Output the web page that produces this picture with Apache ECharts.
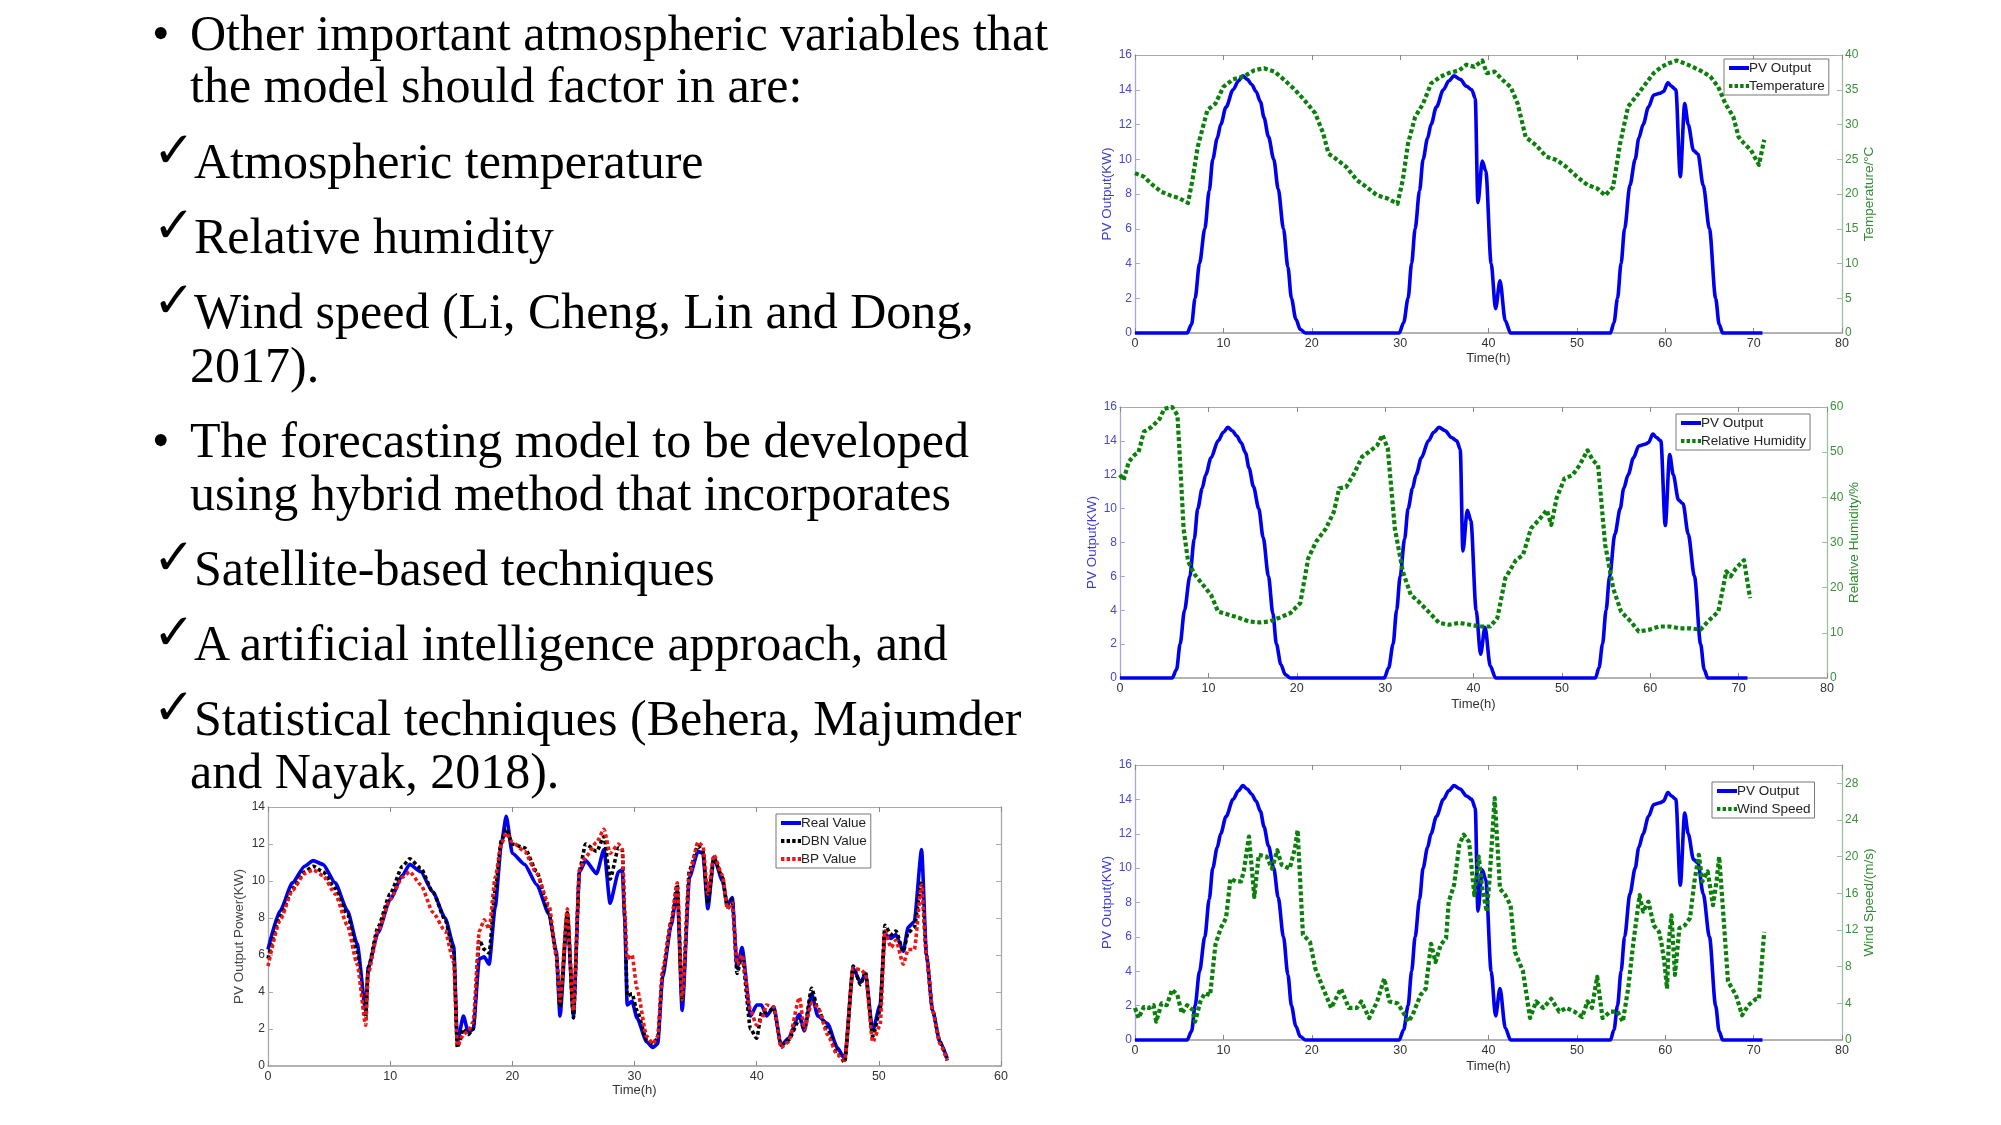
<!DOCTYPE html>
<html>
<head>
<meta charset="utf-8">
<script src="https://cdn.jsdelivr.net/npm/echarts@6/dist/echarts.min.js"></script>
<style>
html,body{margin:0;padding:0;background:#fff;overflow:hidden;}
#c{position:absolute;left:0;top:0;width:2001px;height:1125px;}
.tx{position:absolute;font-family:"Liberation Serif",serif;font-size:50px;line-height:50px;color:#000;white-space:nowrap;z-index:2;}
.ck{position:absolute;font-family:"DejaVu Sans",sans-serif;font-weight:bold;font-size:50px;line-height:50px;color:#000;white-space:nowrap;z-index:2;}
</style>
</head>
<body>
<div id="c"></div>

<div class="tx" style="left:152px;top:8px">•</div>
<div class="tx" style="left:190px;top:8px">Other important atmospheric variables that</div>
<div class="tx" style="left:190px;top:60px">the model should factor in are:</div>
<div class="ck" style="left:153px;top:125px">✓</div>
<div class="tx" style="left:194px;top:136px">Atmospheric temperature</div>
<div class="ck" style="left:153px;top:200px">✓</div>
<div class="tx" style="left:194px;top:211px">Relative humidity</div>
<div class="ck" style="left:153px;top:275px">✓</div>
<div class="tx" style="left:194px;top:286px">Wind speed (Li, Cheng, Lin and Dong,</div>
<div class="tx" style="left:190px;top:340px">2017).</div>
<div class="tx" style="left:152px;top:415px">•</div>
<div class="tx" style="left:190px;top:415px">The forecasting model to be developed</div>
<div class="tx" style="left:190px;top:468px">using hybrid method that incorporates</div>
<div class="ck" style="left:153px;top:532px">✓</div>
<div class="tx" style="left:194px;top:543px">Satellite-based techniques</div>
<div class="ck" style="left:153px;top:607px">✓</div>
<div class="tx" style="left:194px;top:618px">A artificial intelligence approach, and</div>
<div class="ck" style="left:153px;top:682px">✓</div>
<div class="tx" style="left:194px;top:693px">Statistical techniques (Behera, Majumder</div>
<div class="tx" style="left:190px;top:746px">and Nayak, 2018).</div>

<script>
// ---------------- DATA ----------------
const pvTime = [0, 5.9, 6.4, 6.8, 7.3, 7.9, 8.4, 8.8, 9.3, 9.7, 10.3, 11.1, 11.7, 12.2, 12.7, 13.2, 13.7, 14.2, 14.6, 15.1, 15.7, 16.2, 16.8, 17.3, 17.7, 18.2, 18.7, 19.3,
  29.9, 30.4, 30.9, 31.3, 31.7, 32.2, 32.6, 33.1, 33.5, 34.1, 34.9, 35.5, 36.1, 36.8, 37.5, 38.1, 38.5, 38.8, 39.3, 39.7, 40.3, 40.8, 41.3, 41.9, 42.5,
  53.8, 54.2, 54.6, 55.0, 55.4, 56.0, 56.6, 57.0, 57.5, 58.1, 58.7, 59.4, 59.8, 60.3, 60.7, 61.2, 61.7, 62.2, 62.6, 63.2, 63.7, 64.3, 65.0, 65.7, 66.1, 66.5, 71];
const pvOutput = [0, 0, 0.5, 2.0, 4.0, 6.0, 8.2, 10.0, 11.2, 12.0, 13.0, 14.0, 14.5, 14.8, 14.6, 14.3, 13.9, 13.3, 12.4, 11.3, 10.0, 8.3, 6.0, 3.8, 2.0, 0.8, 0.2, 0,
  0, 0.6, 2.0, 4.0, 6.0, 8.2, 10.0, 11.2, 12.0, 13.0, 14.0, 14.5, 14.8, 14.6, 14.2, 14.0, 13.5, 7.5, 9.9, 9.3, 4.0, 1.4, 3.0, 0.7, 0,
  0, 0.6, 2.0, 4.0, 6.0, 8.5, 10.0, 11.2, 12.0, 13.0, 13.7, 13.8, 13.9, 14.4, 14.2, 14.0, 9.0, 13.2, 12.0, 10.5, 10.3, 8.5, 6.0, 2.0, 0.5, 0, 0];

const tempTime = [0, 1.0, 2.0, 3.0, 4.0, 5.0, 6.0, 6.5, 7.1, 7.7, 8.2, 9.1, 10.0, 11.1, 12.3, 13.5, 14.6, 15.8, 16.9, 18.1, 19.3, 20.4, 21.3, 21.9, 22.7, 23.9,
  25.1, 26.2, 27.4, 28.5, 29.7, 30.3, 30.9, 31.7, 32.6, 33.5, 34.6, 35.5, 36.7, 37.5, 38.4, 39.3, 39.8, 40.7, 41.6, 42.5, 43.3, 44.2, 45.4, 46.5, 47.7,
  48.8, 50.0, 51.2, 52.3, 53.2, 54.1, 54.9, 55.8, 57.0, 57.8, 58.7, 59.6, 60.4, 61.3, 62.2, 63.1, 64.2, 65.1, 66.0, 66.8, 67.7, 68.3, 68.9, 69.7, 70.6, 71.2];
const temperature = [23.0, 22.5, 21.3, 20.3, 19.8, 19.4, 18.7, 22.0, 26.8, 29.7, 32.1, 33.0, 35.4, 36.5, 36.9, 37.8, 38.1, 37.6, 36.4, 35.0, 33.3, 31.6, 28.7, 25.8, 25.1, 23.9,
  22.0, 21.0, 19.8, 19.4, 18.6, 22.0, 27.3, 31.1, 33.0, 35.9, 36.9, 37.4, 37.8, 38.6, 38.3, 39.2, 37.4, 37.6, 36.4, 35.4, 33.0, 28.2, 27.0, 25.4, 24.9,
  23.9, 22.5, 21.3, 20.8, 19.8, 21.0, 27.3, 32.6, 34.5, 35.9, 37.4, 38.3, 38.8, 39.2, 38.8, 38.3, 37.6, 36.9, 35.4, 33.0, 31.1, 28.2, 27.3, 26.3, 24.2, 27.8];

const rhTime = [0, 0.4, 1.0, 1.6, 2.1, 2.7, 3.6, 4.5, 5.0, 5.9, 6.5, 6.8, 7.2, 7.7, 8.5, 9.4, 10.3, 11.1, 12.3, 13.5, 14.6, 15.8, 16.9, 18.1, 19.3, 20.4, 21.3, 22.2, 23.3, 24.2,
  24.8, 25.6, 26.5, 27.4, 28.2, 29.1, 29.7, 30.3, 31.1, 32.0, 32.9, 33.8, 34.9, 36.1, 37.2, 38.4, 39.6, 40.7, 41.9, 42.7, 43.6, 44.8, 45.6, 46.5, 47.4, 48.3, 48.8, 49.4, 50.3, 51.2,
  52.0, 52.9, 53.5, 54.1, 54.9, 55.8, 56.7, 57.8, 58.7, 59.9, 61.0, 62.2, 63.3, 64.5, 65.7, 66.5, 67.7, 68.6, 69.1, 69.7, 70.6, 71.3];
const humidity = [45, 43.8, 47.9, 49.3, 50, 54.5, 55.6, 57.4, 59.6, 60, 58.2, 47.9, 33, 25.8, 22.8, 20.6, 18.4, 14.7, 14, 13.3, 12.5, 12.3, 12.5, 13.4, 14.4, 16.6, 26.5, 30.2, 33.1, 36.8,
  42, 42.3, 45.3, 49, 50.1, 51.5, 53.8, 50.8, 33.1, 23.6, 18.4, 16.9, 14.7, 12.2, 11.8, 12.2, 11.8, 11.4, 11.4, 13.3, 22.1, 26.1, 27.2, 33.1, 35, 37.2, 33.9, 39.8, 44.2, 44.9,
  47.1, 50.4, 48.2, 47.1, 29.5, 19.9, 14.7, 12.5, 10.3, 10.7, 11.4, 11.4, 11, 11, 10.7, 12.5, 14.7, 23.6, 22.5, 24.3, 26.1, 17.7];

const windTime = [0, 0.4, 1.0, 1.6, 2.1, 2.4, 3.0, 3.6, 4.2, 4.8, 5.3, 5.9, 6.5, 6.8, 7.4, 7.9, 8.5, 9.1, 9.7, 10.3,
  10.8, 11.4, 12.0, 12.3, 12.9, 13.5, 14.0, 14.9, 15.5, 16.1, 16.6, 17.5, 18.1, 18.4, 19.0, 19.8, 20.4, 21.3, 22.2, 23.3,
  24.2, 25.1, 25.6, 26.5, 27.4, 28.2, 28.8, 29.7, 30.3, 30.9, 31.4, 32.3, 32.9, 33.5, 34.0, 34.6, 35.2, 35.5, 36.1, 36.7,
  37.2, 37.8, 38.4, 38.9, 39.3, 39.8, 40.1, 40.7, 41.3, 41.9, 42.5, 43.0, 43.9, 44.7, 45.4, 46.2, 47.1, 48.0, 48.8, 49.7,
  50.6, 51.2, 51.7, 52.3, 52.9, 53.8, 54.6, 55.2, 55.8, 56.4, 57.1, 57.5, 58.1, 58.7, 59.3, 59.6, 59.9, 60.2, 60.4, 60.7,
  61.1, 61.6, 62.2, 62.8, 63.3, 63.8, 64.2, 64.8, 65.4, 65.8, 66.1, 66.5, 67.1, 68.0, 68.7, 69.4, 70.3, 70.6, 71.2];
const windSpeed = [3.5, 2.4, 3.6, 3.5, 3.8, 2, 4, 3.8, 5.5, 4.9, 2.9, 3.8, 3.3, 2, 4.2, 5.1, 4.9, 10.4, 12.2, 13.3,
  17.6, 17.3, 17.3, 18.4, 22.2, 15.6, 20.2, 20, 18.7, 20.7, 19.1, 18.7, 20.9, 22.9, 11.5, 10.7, 7.8, 5.6, 3.5, 5.6,
  3.5, 3.5, 4.2, 2.4, 4.2, 6.7, 4.2, 4, 3.1, 2, 2.7, 4.9, 5.6, 10.5, 8.5, 10.4, 11.1, 15.1, 16.9, 21.3,
  22.4, 21.6, 15.8, 20, 16.5, 14, 17.3, 26.4, 16.5, 15.8, 14.7, 9.6, 7.5, 2.4, 4.2, 3.5, 4.5, 3.1, 3.5, 3.1,
  2.5, 4.2, 3.5, 6.9, 2.4, 3.1, 3.1, 2, 5.6, 10.7, 15.8, 14, 15.1, 12.5, 11.8, 10.4, 8.5, 5.6, 10.7, 13.6,
  7.1, 12.2, 12.5, 13.3, 17.3, 20.2, 17.3, 18.4, 14.7, 17.3, 20, 14.7, 6.4, 4.9, 2.7, 3.8, 4.5, 4.5, 11.8];

const fcTime = [0, 1, 2, 3, 3.7, 4.5, 5.5, 6.5, 7.3, 8, 8.2, 9, 10, 11, 11.6, 12.5, 13.5, 14.5, 15.2, 15.5,
  16, 16.4, 16.8, 17.3, 17.7, 18.1, 18.6, 19.1, 19.5, 20, 21, 22, 23, 23.6, 23.9, 24.5, 25, 25.5, 26, 26.9,
  27.5, 28, 28.7, 29, 29.2, 29.4, 29.8, 30.2, 31, 31.5, 31.9, 32.3, 33, 33.5, 33.9, 34.5, 35.2, 35.6, 36, 36.5,
  37.2, 37.6, 38, 38.4, 38.8, 39.5, 40, 40.4, 40.8, 41.4, 42, 42.6, 43.5, 43.9, 44.5, 45, 45.8, 46.6, 47.2, 47.9,
  48.5, 48.9, 49.5, 50.1, 50.5, 51, 51.4, 52, 52.4, 52.9, 53.5, 53.9, 54.4, 55, 55.6];
const realValue = [6.3, 8.4, 9.9, 10.8, 11.1, 10.9, 9.9, 8.4, 6.6, 3.0, 5.3, 7.2, 9.0, 10.3, 10.9, 10.5, 9.4, 8.0, 6.5, 1.3,
  2.7, 1.8, 2.0, 5.8, 5.9, 5.5, 8.6, 12.0, 13.5, 11.5, 10.9, 9.8, 8.2, 6.2, 2.7, 8.2, 2.7, 10.5, 11.1, 10.4,
  11.7, 8.8, 10.5, 10.6, 8.0, 3.3, 3.5, 2.6, 1.3, 1.0, 1.2, 4.8, 7.6, 9.5, 3.0, 10.2, 11.6, 11.5, 8.5, 11.3,
  10.0, 8.7, 9.1, 5.3, 6.4, 2.7, 3.3, 3.3, 2.7, 3.2, 1.1, 1.5, 2.8, 1.9, 3.9, 2.7, 2.3, 1.0, 0.4, 5.3,
  4.5, 5.0, 1.9, 3.3, 7.1, 6.9, 7.1, 6.2, 7.5, 7.8, 11.7, 6.0, 3.0, 1.3, 0.4];
const dbnValue = [5.8, 8.1, 9.6, 10.5, 10.8, 10.5, 9.6, 8.2, 6.2, 2.6, 5.3, 7.5, 9.3, 10.8, 11.2, 10.7, 9.4, 7.9, 6.2, 1.0,
  2.0, 1.7, 2.0, 6.8, 6.3, 6.1, 9.5, 12.2, 12.8, 12.0, 11.8, 10.5, 8.3, 6.0, 3.2, 8.3, 2.6, 10.6, 12.0, 11.6,
  12.4, 10.1, 11.8, 11.7, 8.2, 3.8, 3.9, 3.0, 1.4, 1.2, 1.5, 5.0, 7.8, 9.8, 3.5, 10.6, 11.9, 11.6, 8.8, 11.2,
  10.2, 8.6, 9.0, 5.0, 6.0, 2.0, 1.5, 2.9, 2.9, 3.1, 1.1, 1.4, 2.5, 2.0, 4.2, 3.1, 2.0, 0.8, 0.2, 5.4,
  4.4, 5.1, 1.6, 3.0, 7.6, 7.1, 7.3, 6.2, 7.2, 7.5, 10.0, 6.0, 3.0, 1.3, 0.3];
const bpValue = [5.4, 7.9, 9.5, 10.4, 10.6, 10.3, 9.3, 7.6, 5.5, 2.2, 5.0, 7.3, 9.0, 10.2, 10.5, 9.8, 8.3, 7.3, 5.6, 1.1,
  1.7, 1.9, 2.4, 7.3, 7.9, 7.4, 10.2, 12.0, 12.6, 12.1, 11.6, 10.4, 8.7, 6.0, 3.5, 8.5, 3.0, 10.6, 11.3, 12.1,
  12.8, 11.5, 12.0, 11.7, 8.3, 5.8, 6.0, 4.2, 1.6, 1.2, 1.6, 5.2, 7.8, 9.9, 3.6, 10.4, 12.1, 11.9, 9.3, 11.4,
  10.3, 8.5, 8.8, 5.5, 6.0, 3.0, 2.2, 2.5, 3.3, 3.2, 1.0, 1.3, 3.7, 2.0, 3.4, 3.2, 1.7, 0.6, 0.3, 5.3,
  5.2, 5.0, 1.3, 2.2, 7.3, 6.4, 6.8, 5.5, 6.3, 6.3, 9.8, 6.0, 3.0, 1.2, 0.3];

// ---------------- CHART ----------------
const FONT = 'Liberation Sans';
const BLUE = '#0000f0', GREEN = '#0a800a', RED = '#f01414';
const pairs = (t, v) => t.map((x, i) => [x, v[i]]);

const grids = [
  { left: 1135, top: 55, width: 707, height: 278 },
  { left: 1120, top: 407, width: 707, height: 271 },
  { left: 1135, top: 765, width: 707, height: 275 },
  { left: 268, top: 807, width: 733, height: 259 }
];

const xAxis = [], yAxis = [];
function addX(g, max, nameGap) {
  xAxis.push({
    gridIndex: g, type: 'value', min: 0, max: max, interval: 10, position: 'bottom',
    axisLine: { show: true, onZero: false, lineStyle: { color: '#9a9a9a', width: 1.5 } },
    axisTick: { show: true, inside: true, length: 5, lineStyle: { color: '#888' } },
    axisLabel: { color: '#333', fontSize: 12.5, fontFamily: FONT, margin: 4 },
    splitLine: { show: false },
    name: 'Time(h)', nameLocation: 'middle', nameGap: nameGap,
    nameTextStyle: { color: '#333', fontSize: 13, fontFamily: FONT }
  });
  xAxis.push({
    gridIndex: g, type: 'value', min: 0, max: max, interval: 10, position: 'top',
    axisLine: { show: true, onZero: false, lineStyle: { color: '#a8a8a8', width: 1.2 } },
    axisTick: { show: true, inside: true, length: 5, lineStyle: { color: '#888' } },
    axisLabel: { show: false }, splitLine: { show: false }
  });
}
function addY(g, pos, max, interval, name, labelColor, lineColor, nameColor, nameGap, showLabel, hideMax) {
  yAxis.push({
    gridIndex: g, type: 'value', min: 0, max: max, interval: interval, position: pos,
    axisLine: { show: true, onZero: false, lineStyle: { color: lineColor, width: 1.3 } },
    axisTick: { show: true, inside: true, length: 5, lineStyle: { color: lineColor } },
    axisLabel: {
      show: showLabel, color: labelColor, fontSize: 12, fontFamily: FONT, margin: 3,
      formatter: v => (hideMax && v === max) ? '' : String(v)
    },
    splitLine: { show: false },
    name: name, nameLocation: 'middle', nameGap: nameGap,
    nameTextStyle: { color: nameColor, fontSize: 13.5, fontFamily: FONT }
  });
}
const LBLUE = '#4848c8', LGREEN = '#3d8f3d';
// chart 1
addX(0, 80, 19);
addY(0, 'left', 16, 2, 'PV Output(KW)', LBLUE, '#a6a6d8', '#3c3cd0', 20, true, false);
addY(0, 'right', 40, 5, 'Temperature/°C', LGREEN, '#9cc09c', '#2f8a2f', 19, true, false);
// chart 2
addX(1, 80, 20);
addY(1, 'left', 16, 2, 'PV Output(KW)', LBLUE, '#a6a6d8', '#3c3cd0', 20, true, false);
addY(1, 'right', 60, 10, 'Relative Humidity/%', LGREEN, '#9cc09c', '#2f8a2f', 20, true, false);
// chart 3
addX(2, 80, 20);
addY(2, 'left', 16, 2, 'PV Output(KW)', LBLUE, '#a6a6d8', '#3c3cd0', 20, true, false);
addY(2, 'right', 30, 4, 'Wind Speed/(m/s)', LGREEN, '#9cc09c', '#2f8a2f', 20, true, true);
// chart 4
addX(3, 60, 16);
addY(3, 'left', 14, 2, 'PV Output Power(KW)', '#333', '#aaaaaa', '#444', 22, true, false);
addY(3, 'right', 14, 2, '', '#333', '#aaaaaa', '#444', 22, false, false);

function line(name, xi, yi, data, color, width, dash, z, smooth) {
  return {
    type: 'line', name: name, xAxisIndex: xi, yAxisIndex: yi, data: data,
    symbol: 'none', showSymbol: false, clip: false, z: z,
    smooth: smooth || false, smoothMonotone: 'x',
    lineStyle: { color: color, width: width, type: dash || 'solid', cap: 'butt', join: 'round' },
    itemStyle: { color: color }
  };
}
const greenDash = [4, 2.6];
const series = [
  line('PV Output', 0, 0, pairs(pvTime, pvOutput), BLUE, 3.6, null, 3, 0.3),
  line('Temperature', 0, 1, pairs(tempTime, temperature), GREEN, 4.2, greenDash, 4),
  line('PV Output', 2, 2, pairs(pvTime, pvOutput), BLUE, 3.6, null, 3, 0.3),
  line('Relative Humidity', 2, 3, pairs(rhTime, humidity), GREEN, 4.2, greenDash, 4),
  line('PV Output', 4, 4, pairs(pvTime, pvOutput), BLUE, 3.6, null, 3, 0.3),
  line('Wind Speed', 4, 5, pairs(windTime, windSpeed), GREEN, 4.2, greenDash, 4),
  line('Real Value', 6, 6, pairs(fcTime, realValue), BLUE, 3.6, null, 3, 0.2),
  line('DBN Value', 6, 6, pairs(fcTime, dbnValue), '#000000', 3.6, [3.6, 2.6], 4, 0.2),
  line('BP Value', 6, 6, pairs(fcTime, bpValue), RED, 3.6, [3.6, 2.6], 5, 0.2)
];

const solidIcon = { width: 4, type: 'solid' };
const dotIcon = { width: 4, type: [3.4, 2.2] };
function legend(items, left, top) {
  return {
    data: items.map(it => ({ name: it[0], lineStyle: it[1] })),
    left: left, top: top, orient: 'vertical',
    backgroundColor: '#fff', borderColor: '#777', borderWidth: 1, borderRadius: 0,
    padding: [2, 4, 2, 3], itemGap: 4, itemWidth: 20, itemHeight: 14,
    itemStyle: { opacity: 0 },
    textStyle: { fontSize: 13.5, fontFamily: FONT, color: '#222', padding: [0, 0, 0, -5] },
    selectedMode: false, z: 10
  };
}

const option = {
  animation: false,
  backgroundColor: 'transparent',
  grid: grids.map(g => Object.assign({ containLabel: false, show: false }, g)),
  xAxis: xAxis,
  yAxis: yAxis,
  legend: [
    legend([['PV Output', solidIcon], ['Temperature', dotIcon]], 1724, 59),
    legend([['PV Output', solidIcon], ['Relative Humidity', dotIcon]], 1676, 414),
    legend([['PV Output', solidIcon], ['Wind Speed', dotIcon]], 1712, 782),
    legend([['Real Value', solidIcon], ['DBN Value', dotIcon], ['BP Value', dotIcon]], 776, 814)
  ],
  series: series
};

const chart = echarts.init(document.getElementById('c'), null, { renderer: 'canvas' });
chart.setOption(option);
</script>
</body>
</html>
